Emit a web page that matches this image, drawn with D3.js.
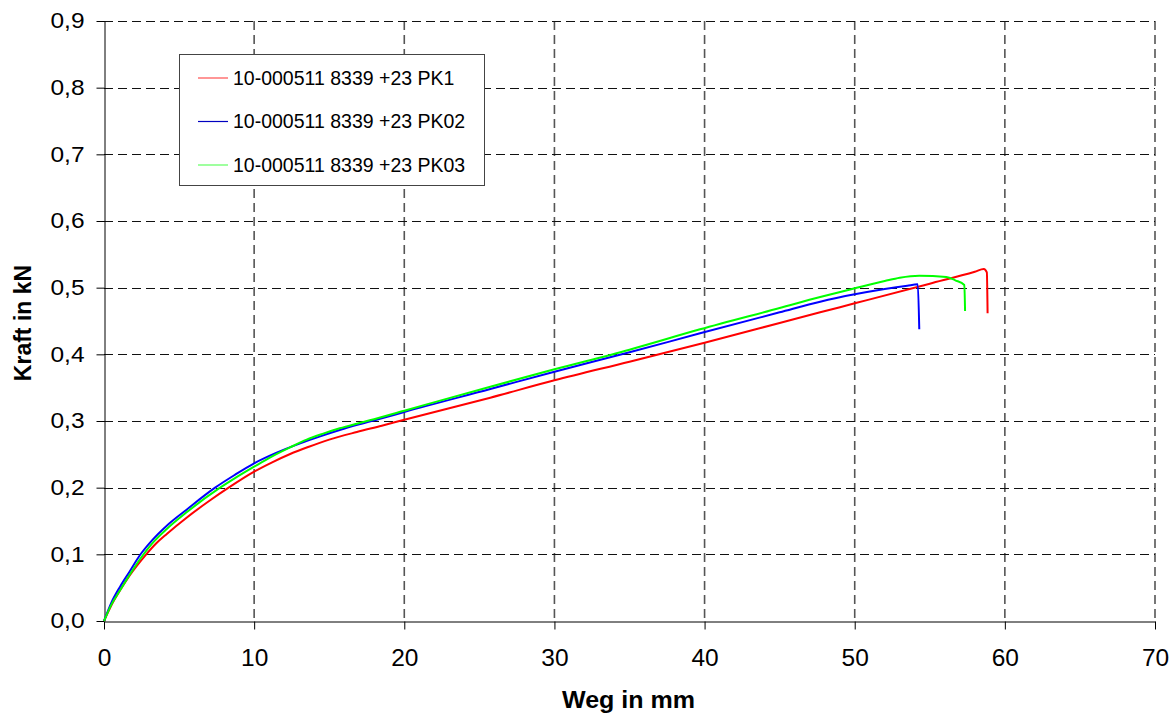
<!DOCTYPE html>
<html><head><meta charset="utf-8">
<script src="https://cdn.jsdelivr.net/npm/d3@7"></script>
<style>body{margin:0;background:#fff}svg{display:block}</style>
</head><body>
<svg id="c" width="1173" height="717"></svg>
<script>
const seriesNames = ["10-000511 8339 +23 PK1", "10-000511 8339 +23 PK02", "10-000511 8339 +23 PK03"];
const seriesColors = ["#ff0000", "#0000ff", "#00ff00"];
const legendColors = ["#ff5050", "#0000c0", "#60ff60"];
const xTicks = [0, 10, 20, 30, 40, 50, 60, 70];
const yTicks = [0, 0.1, 0.2, 0.3, 0.4, 0.5, 0.6, 0.7, 0.8, 0.9];

const redX = [0,0.5,1.07,1.7,2.7,3.5,4.2,5.5,7,8.3,10,11.2,12.4,13.6,15,16.84,18.5,20,25.73,30,35,40,45,47.7,50,55,58,58.6,58.8,58.85];
const redY = [0,0.024,0.046,0.068,0.097,0.117,0.131,0.155,0.18,0.2,0.224,0.238,0.2505,0.261,0.272,0.2835,0.293,0.302,0.335,0.361,0.389,0.4175,0.447,0.463,0.4765,0.506,0.524,0.528,0.523,0.4615];
const blueX = [0,0.5,1.07,1.7,2.4,3.2,4.18,5.5,7.4,8.7,10,11.5,13.07,14.4,15.7,17,18.5,20,25.73,30,35,39.7,45,47.7,50,52,53.5,54.2,54.3];
const blueY = [0,0.028,0.0515,0.074,0.099,0.121,0.143,0.167,0.2,0.219,0.2365,0.2525,0.2665,0.277,0.2865,0.295,0.304,0.3135,0.348,0.374,0.403,0.4315,0.463,0.479,0.49,0.498,0.503,0.505,0.4375];
const greenX = [0,0.5,1.07,1.7,2.5,3.2,4.18,5.5,7.73,8.7,10,11.2,12.4,13.5,14.6,15.7,16.84,17.7,20,25.73,30,35,39.7,45,47.7,50,52,53,54.3,56.1,56.7,57.3,57.35];
const greenY = [0,0.025,0.046,0.069,0.096,0.116,0.138,0.163,0.2,0.214,0.2315,0.247,0.2605,0.272,0.281,0.289,0.296,0.301,0.3155,0.3515,0.3775,0.407,0.4375,0.4695,0.486,0.499,0.51,0.515,0.518,0.516,0.511,0.504,0.465];

const series = [
  {name: seriesNames[0], color: seriesColors[0], lcolor: legendColors[0], pts: redX.map((x,i)=>[x, redY[i]])},
  {name: seriesNames[1], color: seriesColors[1], lcolor: legendColors[1], pts: blueX.map((x,i)=>[x, blueY[i]])},
  {name: seriesNames[2], color: seriesColors[2], lcolor: legendColors[2], pts: greenX.map((x,i)=>[x, greenY[i]])}
];

const svg = d3.select("#c");
const L = 104, R = 1155, T = 21, B = 621;
const x = d3.scaleLinear().domain([0,70]).range([L,R]);
const y = d3.scaleLinear().domain([0,0.9]).range([B,T]);
const font = "Arial, 'Liberation Sans', sans-serif";

// grid
const g = svg.append("g");
g.selectAll("line.gx").data(xTicks.filter(d=>d>0)).join("line")
  .attr("x1", d=>x(d)).attr("x2", d=>x(d)).attr("y1", T).attr("y2", B)
  .attr("stroke", "#555").attr("stroke-width", 1.6).attr("stroke-dasharray", "9,5");
g.selectAll("line.gy").data(yTicks.filter(d=>d>0)).join("line")
  .attr("y1", d=>Math.round(y(d))+0.5).attr("y2", d=>Math.round(y(d))+0.5).attr("x1", L).attr("x2", R)
  .attr("stroke", "#111").attr("stroke-width", 1).attr("stroke-dasharray", "9,5");

// axes
const fmt = d => d3.format(".1f")(d).replace(".", ",");
const ax = svg.append("g").attr("transform", `translate(0,${B+0.5})`)
  .call(d3.axisBottom(x).tickValues(xTicks).tickSize(8).tickSizeOuter(0).tickPadding(19));
ax.select(".domain").attr("stroke", "#000");
ax.selectAll(".tick line").attr("stroke", "#000");
ax.selectAll("text").attr("font-family", font).attr("font-size", 24.5).attr("fill", "#000");
const ay = svg.append("g").attr("transform", `translate(${L+0.5},0)`)
  .call(d3.axisLeft(y).tickValues(yTicks).tickFormat(fmt).tickSize(8).tickSizeOuter(0).tickPadding(12));
ay.select(".domain").attr("stroke", "#000");
ay.selectAll("text").attr("font-family", font).attr("font-size", 21.5).attr("fill", "#000")
  .attr("textLength", 34).attr("lengthAdjust", "spacingAndGlyphs");

// lines
const line = d3.line().x(d=>x(d[0])).y(d=>y(d[1])).curve(d3.curveMonotoneX);
svg.append("g").selectAll("path").data(series).join("path")
  .attr("d", d=>line(d.pts)).attr("fill", "none").attr("stroke", d=>d.color)
  .attr("stroke-width", 2).attr("stroke-linejoin", "round");

// legend
const lg = svg.append("g");
lg.append("rect").attr("x", 179.5).attr("y", 54.5).attr("width", 305).attr("height", 131)
  .attr("fill", "#fff").attr("stroke", "#444").attr("stroke-width", 1);
const rowsY = [77.5, 121, 164.5];
series.forEach((s,i)=>{
  lg.append("line").attr("x1", 198).attr("x2", 228).attr("y1", rowsY[i]+0.5).attr("y2", rowsY[i]+0.5)
    .attr("stroke", s.lcolor).attr("stroke-width", 1.2);
  lg.append("text").attr("x", 233).attr("y", rowsY[i] + 7)
    .attr("font-family", font).attr("font-size", 19.5).attr("fill", "#000").text(s.name);
});

// titles
svg.append("text").attr("x", 628.5).attr("y", 708).attr("text-anchor", "middle")
  .attr("font-family", font).attr("font-size", 23).attr("font-weight", "bold")
  .attr("textLength", 133).attr("lengthAdjust", "spacingAndGlyphs").text("Weg in mm");
svg.append("text").attr("transform", `translate(31,323) rotate(-90)`).attr("text-anchor", "middle")
  .attr("font-family", font).attr("font-size", 23).attr("font-weight", "bold").text("Kraft in kN");
</script>
</body></html>
